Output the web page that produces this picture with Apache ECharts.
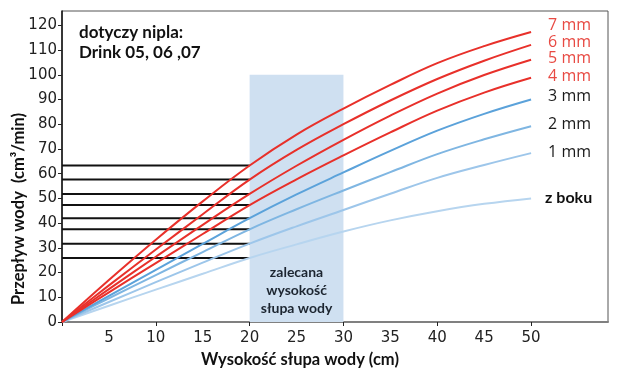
<!DOCTYPE html>
<html>
<head>
<meta charset="utf-8">
<script src="https://cdn.jsdelivr.net/npm/echarts@6/dist/echarts.min.js"></script>
<style>
html,body{margin:0;padding:0;background:#fff;}
#chart{width:622px;height:378px;}
</style>
</head>
<body>
<div id="chart"></div>
<script>
// Water column height (cm)
const heights = [0, 5, 10, 15, 20, 25, 30, 35, 40, 45, 50];
// Flow (cm3/min) per nipple opening
const flow7mm = [0, 17, 33.3, 48.8, 63.3, 75.8, 86.3, 95.9, 104.7, 111.6, 117.3];
const flow6mm = [0, 14.8, 29.3, 43.6, 57.6, 69.6, 80, 89.6, 98.3, 105.7, 112.1];
const flow5mm = [0, 13.3, 26.4, 39.3, 51.8, 63.2, 73.7, 83.5, 92.4, 99.9, 106.1];
const flow4mm = [0, 12, 23.8, 35.6, 47.3, 57.7, 67.4, 76.7, 85.5, 92.8, 98.8];
const flow3mm = [0, 10.6, 21.1, 31.6, 42, 51.6, 60.5, 69.2, 77.4, 84.2, 90];
const flow2mm = [0, 9.6, 19, 28.3, 37.5, 45.6, 53.2, 60.6, 67.9, 73.9, 79.2];
const flow1mm = [0, 8.1, 16.1, 24, 31.7, 38.7, 45.3, 51.9, 58.3, 63.5, 68.3];
const flowSide = [0, 6.6, 13.1, 19.5, 25.9, 31.4, 36.6, 41.1, 44.8, 47.8, 50];
const seriesNames = ['7 mm', '6 mm', '5 mm', '4 mm', '3 mm', '2 mm', '1 mm', 'z boku'];
// Recommended water column zone
const zoneFrom = 20, zoneTo = 30, zoneTop = 100;
const zoneText = 'zalecana\nwysokość\nsłupa wody';
// Tick labels
const xLabelValues = [5, 10, 15, 20, 25, 30, 35, 40, 45, 50];
const xTickValues = [0, 10, 20, 30, 40, 50];
const yTickValues = [0, 10, 20, 30, 40, 50, 60, 70, 80, 90, 100, 110, 120];
const noteText = 'dotyczy nipla:\nDrink 05, 06 ,07';
const xTitle = 'Wysokość słupa wody (cm)';
const yTitle = 'Przepływ wody  (cm³/min)';

const allFlows = [flow7mm, flow6mm, flow5mm, flow4mm, flow3mm, flow2mm, flow1mm, flowSide];
const lineColors = ['#e8302a', '#e8302a', '#e8302a', '#e8302a', '#5ba2da', '#7fb6e2', '#9dc6ea', '#b7d5ef'];
const labelColors = ['#e84a43', '#e84a43', '#e84a43', '#e84a43', '#1a1a1a', '#1a1a1a', '#1a1a1a', '#111'];
const labelOffsets = [-7, -2, -1, -1, -3, -2, -1, -1];

const chart = echarts.init(document.getElementById('chart'), null, {renderer: 'canvas'});

const series = [];
// shaded zone
series.push({
  type: 'line', data: [], z: 1, silent: true,
  markArea: {
    silent: true,
    itemStyle: {color: '#cfe0f1'},
    label: {
      show: true, position: 'insideBottom', distance: 5,
      formatter: zoneText, fontFamily: 'Lato', fontWeight: 'bold', fontSize: 14,
      lineHeight: 18, color: '#1c2530', align: 'center'
    },
    data: [[{coord: [zoneFrom, 0]}, {coord: [zoneTo, zoneTop]}]]
  }
});
// horizontal reference lines at 20 cm
const idx20 = heights.indexOf(zoneFrom);
allFlows.forEach((f) => {
  series.push({
    type: 'line', z: 2, silent: true, symbol: 'none',
    data: [[0, f[idx20]], [zoneFrom, f[idx20]]],
    lineStyle: {color: '#111', width: 2}
  });
});
// curves
allFlows.forEach((f, i) => {
  series.push({
    name: seriesNames[i], type: 'line', z: 3 + (8 - i), symbol: 'none', smooth: 0.4,
    data: heights.map((h, k) => [h, f[k]]),
    lineStyle: {color: lineColors[i], width: 2},
    endLabel: {
      show: true, formatter: seriesNames[i], distance: i === 7 ? 14 : 17, offset: [0, labelOffsets[i]],
      fontFamily: i === 7 ? 'Lato' : 'Open Sans', fontWeight: i === 7 ? 'bold' : 'normal',
      fontSize: 16, color: labelColors[i]
    }
  });
});

const option = {
  animation: false,
  backgroundColor: '#fff',
  grid: {left: 62, right: 14, top: 11, bottom: 56, show: true, borderColor: '#555', borderWidth: 1, backgroundColor: 'transparent'},
  xAxis: {
    type: 'value', min: 0, max: 58.2,
    axisLine: {show: true, lineStyle: {color: '#808080', width: 2}},
    axisTick: {show: true, customValues: xTickValues, length: 4, inside: false, lineStyle: {color: '#222', width: 1}},
    axisLabel: {customValues: xLabelValues, margin: 9, fontFamily: 'DejaVu Sans', fontSize: 15, color: '#222'},
    splitLine: {show: false}
  },
  yAxis: {
    type: 'value', min: 0, max: 125.8,
    axisLine: {show: true, lineStyle: {color: '#111', width: 1.5}},
    axisTick: {show: true, customValues: yTickValues, length: 4, lineStyle: {color: '#222'}},
    axisLabel: {customValues: yTickValues, margin: 5, fontFamily: 'DejaVu Sans', fontSize: 15, color: '#222'},
    splitLine: {show: false}
  },
  graphic: [
    {type: 'text', left: 79, top: 23, style: {text: noteText, font: 'bold 17px Lato', fill: '#111', lineHeight: 20}},
    {type: 'text', x: 300, y: 360, style: {text: xTitle, font: 'bold 16.5px Lato', fill: '#111', align: 'center', verticalAlign: 'middle'}},
    {type: 'text', x: 19, y: 209, rotation: Math.PI / 2, style: {text: yTitle, font: 'bold 16.5px Lato', fill: '#111', align: 'center', verticalAlign: 'middle'}}
  ],
  series: series
};
chart.setOption(option);
</script>
</body>
</html>
